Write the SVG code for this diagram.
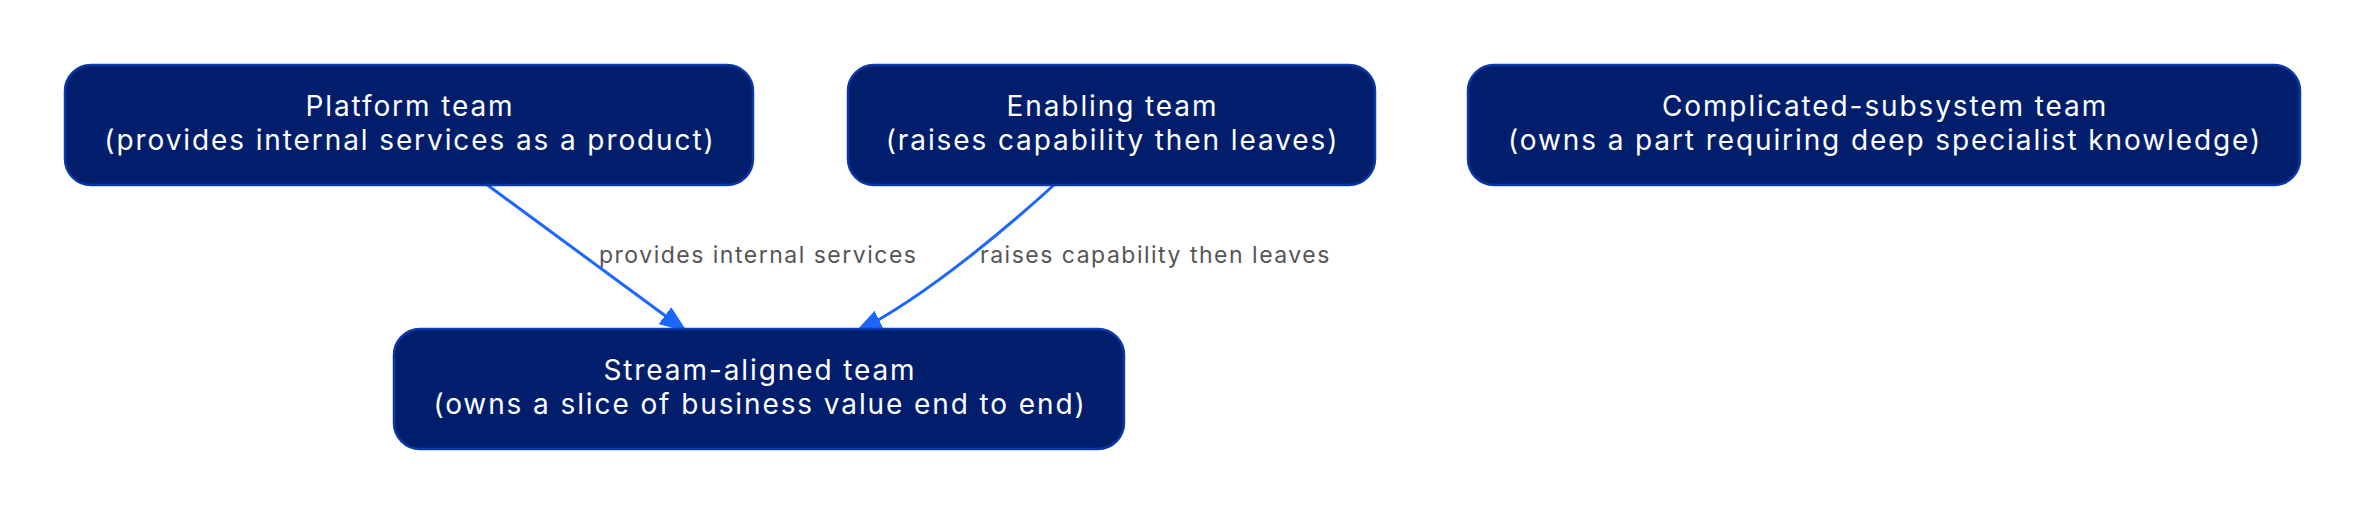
<svg xmlns="http://www.w3.org/2000/svg" width="2366" height="516" viewBox="0 0 2366 516">
<style>
.node rect{fill:#001e6b;stroke:#0a38a8;stroke-width:2.5}
.node text{font-family:Inter,"Liberation Sans",sans-serif;font-size:28px;letter-spacing:1.9px;fill:#ffffff;text-anchor:middle}
.edge{fill:none;stroke:#1a66ff;stroke-width:3}
.elabel{font-family:Inter,"Liberation Sans",sans-serif;font-size:23px;letter-spacing:1.5px;fill:#555555}
</style>
<defs>
<marker id="arr" markerUnits="userSpaceOnUse" markerWidth="30" markerHeight="24" refX="26" refY="10" orient="auto" viewBox="0 0 30 24">
<polygon points="0,0 26,10 0,20" fill="#1a66ff" stroke="#1a66ff" stroke-width="1"/>
</marker>
</defs>
<rect width="2366" height="516" fill="#ffffff"/>
<g id="connectors">
<path class="edge" d="M486,184 L686,331" marker-end="url(#arr)"/>
<path class="edge" d="M1055,184 C1020,216 930,295 856,332" marker-end="url(#arr)"/>
<text class="elabel" x="599" y="263">provides internal services</text>
<text class="elabel" x="980" y="263">raises capability then leaves</text>
</g>
<g id="platform" class="node">
<rect x="65" y="65" width="688" height="120" rx="26" ry="26"/>
<text x="410" y="116">Platform team</text>
<text x="410" y="150">(provides internal services as a product)</text>
</g>
<g id="enabling" class="node">
<rect x="848" y="65" width="527" height="120" rx="26" ry="26"/>
<text x="1112.5" y="116">Enabling team</text>
<text x="1112.5" y="150">(raises capability then leaves)</text>
</g>
<g id="complicated" class="node">
<rect x="1468" y="65" width="832" height="120" rx="26" ry="26"/>
<text x="1885" y="116">Complicated-subsystem team</text>
<text x="1885" y="150">(owns a part requiring deep specialist knowledge)</text>
</g>
<g id="stream" class="node">
<rect x="394" y="329" width="730" height="120" rx="26" ry="26"/>
<text x="760" y="380">Stream-aligned team</text>
<text x="760" y="414">(owns a slice of business value end to end)</text>
</g>
</svg>
